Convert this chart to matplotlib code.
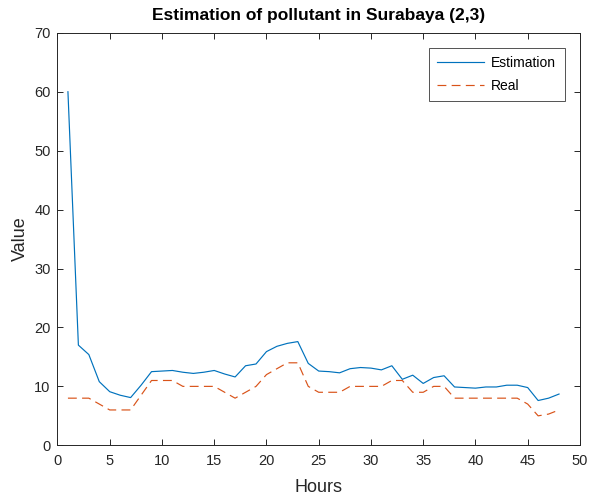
import matplotlib
matplotlib.use("Agg")
import matplotlib.pyplot as plt

plt.rcParams['font.family'] = ['Liberation Sans', 'DejaVu Sans']

hours = list(range(1, 49))
estimation = [60, 17.0, 15.4, 10.8, 9.1, 8.5, 8.1, 10.2, 12.5, 12.6, 12.7, 12.4,
              12.2, 12.4, 12.7, 12.1, 11.6, 13.5, 13.8, 15.9, 16.8, 17.3, 17.6, 13.9,
              12.6, 12.5, 12.3, 13.0, 13.2, 13.1, 12.8, 13.5, 11.2, 11.9, 10.5, 11.5,
              11.8, 9.9, 9.8, 9.7, 9.9, 9.9, 10.2, 10.2, 9.8, 7.6, 8.0, 8.7]
real = [8, 8, 8, 7, 6, 6, 6, 8.5, 11, 11, 11, 10,
        10, 10, 10, 9, 8, 9, 10, 12, 13, 14, 14, 10,
        9, 9, 9, 10, 10, 10, 10, 11, 11, 9, 9, 10,
        10, 8, 8, 8, 8, 8, 8, 8, 7, 5, 5.3, 6]
xticks = [0, 5, 10, 15, 20, 25, 30, 35, 40, 45, 50]
yticks = [0, 10, 20, 30, 40, 50, 60, 70]

fig = plt.figure(figsize=(5.89, 4.97), dpi=100)
ax = fig.add_axes([0.0976, 0.104, 0.887, 0.830])

ax.plot(hours, estimation, color='#0072BD', lw=0.85, label='Estimation')
ax.plot(hours, real, color='#D95319', lw=0.85, ls=(0, (7.5, 4.5)), label='Real')

ax.set_xlim(0, 50)
ax.set_ylim(0, 70)
ax.set_xticks(xticks)
ax.set_yticks(yticks)
axcol = '#262626'
ax.tick_params(direction='in', top=True, right=True, length=4, width=0.7,
               colors=axcol, labelsize=10.5)
ax.tick_params(axis='x', pad=6)
ax.tick_params(axis='y', pad=5)
for s in ax.spines.values():
    s.set_color(axcol)
    s.set_linewidth(0.7)

ax.set_xlabel('Hours', fontsize=13, color=axcol, labelpad=8)
ax.set_ylabel('Value', fontsize=13, color=axcol, labelpad=4)
ax.set_title('Estimation of pollutant in Surabaya (2,3)', fontsize=12.5,
             fontweight='bold', color='black', pad=9)

leg = ax.legend(loc='upper right', fontsize=10, frameon=True, fancybox=False,
                edgecolor=axcol, handlelength=3.4, borderpad=0.6,
                labelspacing=0.6, handletextpad=0.5,
                bbox_to_anchor=(0.984, 0.98))
leg.get_frame().set_linewidth(0.7)

fig.savefig('out.png', dpi=100)
